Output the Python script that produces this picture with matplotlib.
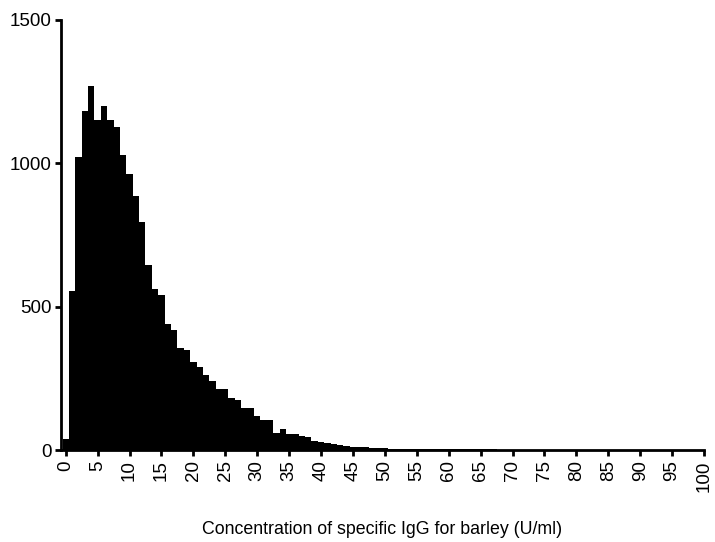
import numpy as np
import matplotlib
matplotlib.use("Agg")
import matplotlib.pyplot as plt

plt.rcParams['font.family'] = ['Liberation Sans', 'DejaVu Sans']

# bin centres (U/ml) and counts
bins = np.arange(0, 100)
counts = [40, 555, 1020, 1180, 1270, 1150, 1200, 1150, 1125, 1027,
          961, 886, 794, 643, 562, 540, 440, 419, 357, 347,
          306, 291, 260, 241, 211, 211, 183, 174, 146, 146,
          120, 103, 103, 61, 73, 57, 55, 48, 45, 32,
          28, 23, 20, 16, 14, 11, 10, 9, 7, 6,
          6, 5, 5, 4, 4, 4, 3, 3, 3, 3,
          2, 2, 2, 2, 2, 2, 2, 2, 1, 1,
          1, 1, 1, 1, 1, 1, 1, 1, 1, 1,
          1, 1, 1, 1, 1, 1, 1, 1, 1, 1,
          1, 1, 1, 1, 1, 1, 1, 1, 1, 1]

xticks = np.arange(0, 101, 5)
yticks = [0, 500, 1000, 1500]
xlabel = 'Concentration of specific IgG for barley (U/ml)'

fig = plt.figure(figsize=(7.15, 5.42), dpi=100)
ax = fig.add_axes([0.0853, 0.1697, 0.8993, 0.7943])

ax.bar(bins, counts, width=1.0, color='black', linewidth=0)

ax.set_xlim(-0.74, 100)
ax.set_ylim(0, 1500)
ax.set_xticks(xticks)
ax.set_xticklabels([str(t) for t in xticks], rotation=90)
ax.set_yticks(yticks)

for side in ['top', 'right']:
    ax.spines[side].set_visible(False)
for side in ['left', 'bottom']:
    ax.spines[side].set_linewidth(2.0)

ax.tick_params(axis='both', direction='out', length=4, width=2.0,
               labelsize=13.5, pad=2.5, color='black')
ax.tick_params(axis='x', pad=3.5)

ax.set_xlabel(xlabel, fontsize=12.8, labelpad=21)

fig.savefig('out.png', dpi=100)
